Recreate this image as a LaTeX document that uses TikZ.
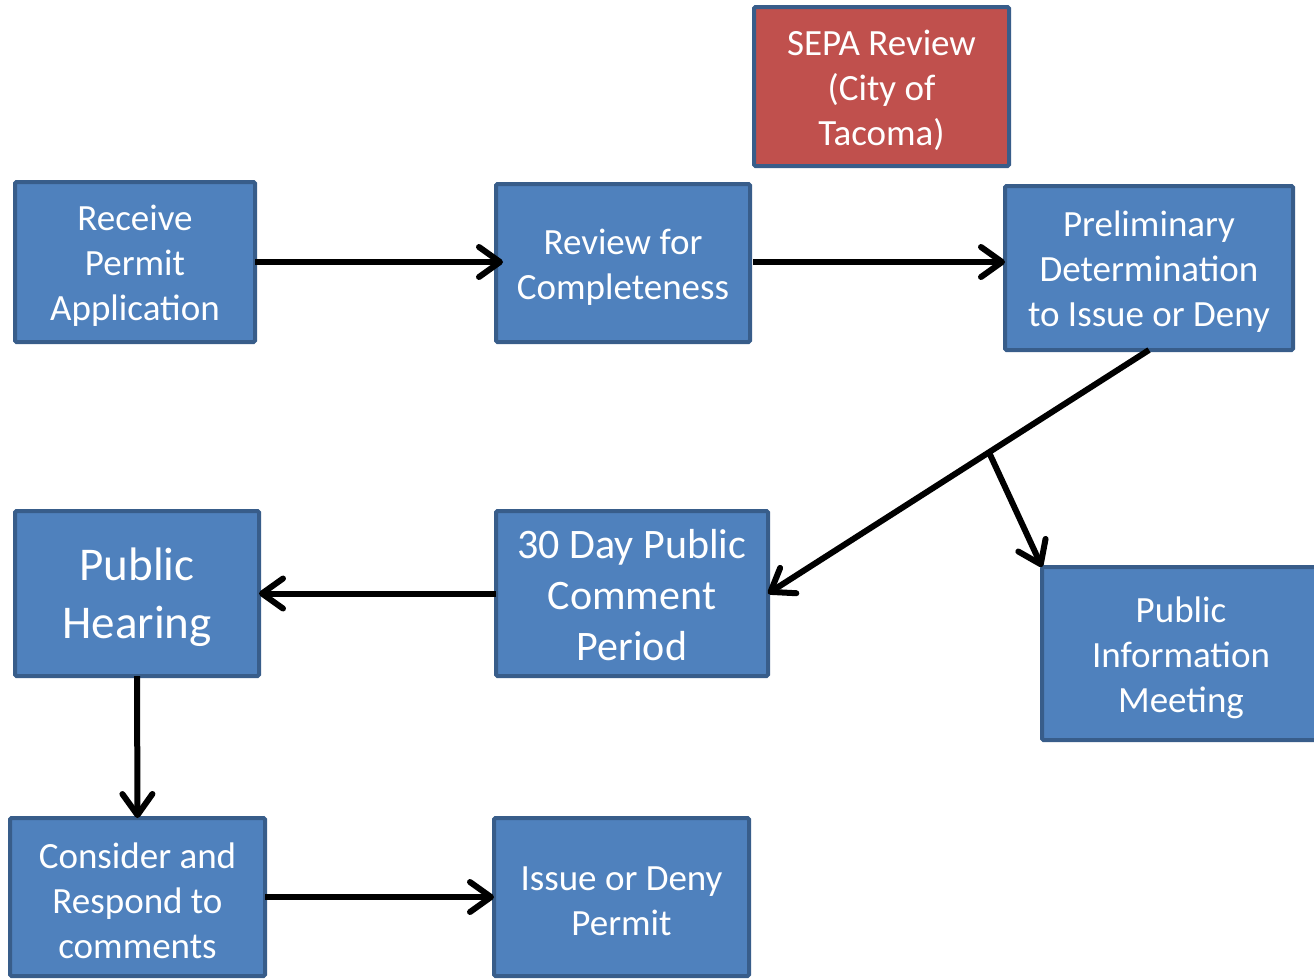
\documentclass[tikz,border=0pt]{standalone}
\usepackage{fontspec}
\setmainfont{Carlito}
\usetikzlibrary{arrows.meta,calc}
\definecolor{boxfill}{HTML}{4F81BD}
\definecolor{boxline}{HTML}{385D8A}
\definecolor{redfill}{HTML}{C0504D}
\tikzset{
  pbox/.style 2 args={draw=boxline, line width=4pt, fill=boxfill,
    rectangle, rounded corners=1.5pt, outer sep=0pt, inner sep=0pt,
    minimum width=#1, minimum height=#2},
  lbl/.style={text=white, align=center, yshift=-4pt, inner sep=0pt,
    font=\fontsize{37}{45}\selectfont},
  conn/.style={line width=6pt, -{Straight Barb[length=21pt,width=30pt,line width=6pt,line cap=round,line join=round]}}
}
\begin{document}
\begin{tikzpicture}[x=1pt,y=-1pt]
\clip (0,0) rectangle (1314,978);
\fill[white] (0,0) rectangle (1314,978);
\node[pbox={240pt}{160pt}, label={[lbl]center:{Receive\\Permit\\Application}}] (recv) at (135,262) {};
\node[pbox={254pt}{158pt}, label={[lbl]center:{Review for\\Completeness}}] (review) at (623,263) {};
\node[pbox={255pt}{159pt}, fill=redfill, label={[lbl]center:{SEPA Review\\(City of\\Tacoma)}}] (sepa) at (881.5,86.5) {};
\node[pbox={288pt}{164pt}, label={[lbl]center:{Preliminary\\Determination\\to Issue or Deny}}] (prelim) at (1149,268) {};
\node[pbox={244pt}{165pt}, label={[lbl, font=\fontsize{47}{58}\selectfont]center:{Public\\Hearing}}] (hearing) at (137,593.5) {};
\node[pbox={272pt}{165pt}, label={[lbl, yshift=2pt, font=\fontsize{42}{51}\selectfont]center:{30 Day Public\\Comment\\Period}}] (day) at (632,593.5) {};
\node[pbox={278pt}{173pt}, label={[lbl]center:{Public\\Information\\Meeting}}] (pim) at (1181,653.5) {};
\node[pbox={255pt}{158pt}, label={[lbl]center:{Consider and\\Respond to\\comments}}] (consider) at (137.5,897) {};
\node[pbox={255pt}{158pt}, label={[lbl]center:{Issue or Deny\\Permit}}] (issue) at (621.5,897) {};
\coordinate (br) at ($(prelim.south)!0.42!(day.east)$);
\draw[conn, shorten >=-7pt] (recv.east) -- (recv.east -| review.west);
\draw[conn, shorten <=3pt] (review.east |- recv.east) -- (recv.east -| prelim.west);
\draw[conn] (prelim.south) -- (day.east);
\draw[conn] (br) -- (pim.north west);
\draw[conn] (day.west) -- (hearing.east);
\draw[conn] (hearing.south) -- (consider.north);
\draw[conn] (consider.east) -- (issue.west);
\end{tikzpicture}
\end{document}
